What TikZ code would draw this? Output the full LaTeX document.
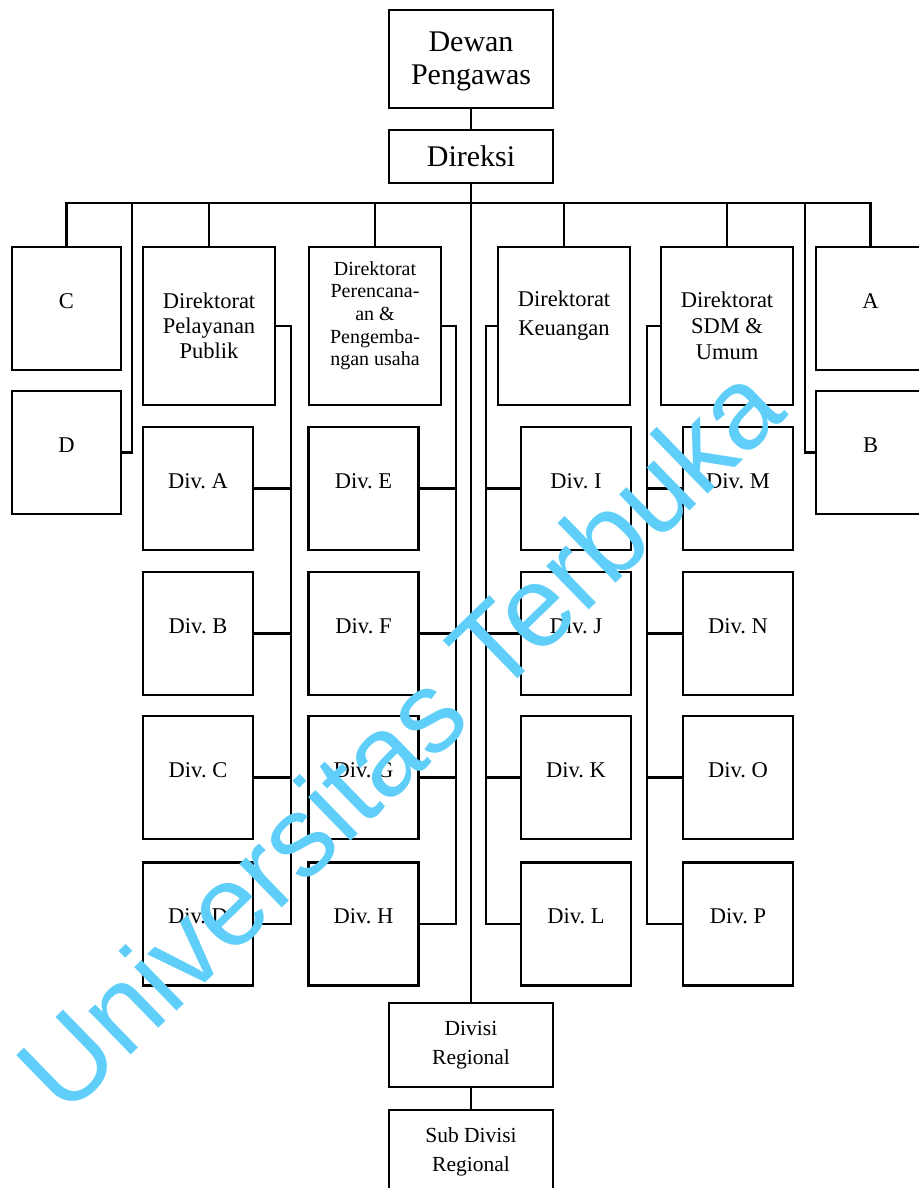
\documentclass[tikz,border=0pt]{standalone}
\usepackage{fontspec}
\setmainfont{Liberation Serif}
\newfontfamily\wmfont{Liberation Sans}
\definecolor{wmblue}{RGB}{95,207,250}
\frenchspacing
\begin{document}
\begin{tikzpicture}[
  x=1pt, y=-1pt,
  box/.style={draw, line width=2.2pt, inner sep=0pt, align=center},
  topbox/.style={box, minimum width=164pt, font=\fontsize{30}{33}\selectfont},
  dirbox/.style={box, minimum width=132pt, minimum height=158pt, font=\fontsize{22.5}{25}\selectfont},
  divbox/.style={box, minimum width=110pt, minimum height=123pt, text height=15pt, text depth=16pt, font=\fontsize{22.5}{25}\selectfont},
  sidebox/.style={divbox, minimum width=109pt},
  regbox/.style={box, minimum width=164pt, minimum height=84pt, font=\fontsize{21.5}{29}\selectfont},
  link/.style={line width=2.2pt}
]
\useasboundingbox (0,0) rectangle (918,1188);

% top of the chart
\node[topbox, minimum height=98pt] (dewan) at (471,59) {\rule{0pt}{6pt}\\[-14pt]Dewan\\Pengawas};
\node[topbox, minimum height=53pt] (direksi) at (471,156.5) {Direksi};

% side units
\node[sidebox] (unitC) at (66.5,308.5) {C};
\node[sidebox] (unitD) at (66.5,452.5) {D};
\node[sidebox] (unitA) at (870.5,308.5) {A};
\node[sidebox] (unitB) at (870.5,452.5) {B};

% directorates
\node[dirbox] (dirPel) at (209,326) {Direktorat\\Pelayanan\\Publik};
\node[dirbox, font=\fontsize{20}{22.7}\selectfont] (dirRen) at (375,326)
  {Direktorat\\Perencana-\\an \&\\Pengemba-\\ngan usaha\\[2pt]\mbox{}};
\node[dirbox, font=\fontsize{22.5}{29}\selectfont] (dirKeu) at (564,326) {Direktorat\\Keuangan\\[-4pt]\mbox{}};
\node[dirbox, font=\fontsize{22.5}{26}\selectfont] (dirSdm) at (727,326) {Direktorat\\SDM \&\\Umum};

% divisions
\foreach \n/\x/\y in {A/198/488.5, B/198/633.5, C/198/777.5, D/198/924,
                      E/363.5/488.5, F/363.5/633.5, G/363.5/777.5, H/363.5/924,
                      I/576/488.5, J/576/633.5, K/576/777.5, L/576/924,
                      M/738/488.5, N/738/633.5, O/738/777.5, P/738/924}
  \node[divbox] (div\n) at (\x,\y) {Div. \n};

% regional
\node[regbox] (divReg) at (471,1045) {Divisi\\Regional};
\node[regbox] (subReg) at (471,1152) {Sub Divisi\\Regional};

% bus and taps
\coordinate (bus) at (0,203);
\coordinate (tapD) at (132,203);
\coordinate (tapB) at (805,203);
\draw[link] (dewan) -- (direksi);
\draw[link] (direksi) -- (divReg);
\draw[link] (divReg) -- (subReg);
\draw[link] (unitC.north) -- (unitC.north |- bus) -- (unitA.north |- bus) -- (unitA.north);
\foreach \d in {dirPel,dirRen,dirKeu,dirSdm}
  \draw[link] (\d.north) -- (\d.north |- bus);
\draw[link] (unitD.east) -| (tapD);
\draw[link] (unitB.west) -| (tapB);

% spines of the directorates
\coordinate (pelSpine) at (291,326);
\coordinate (renSpine) at (456,326);
\coordinate (keuSpine) at (486,326);
\coordinate (sdmSpine) at (647,326);
\draw[link] (dirPel.east) -- (pelSpine) |- (divD.east);
\draw[link] (dirRen.east) -- (renSpine) |- (divH.east);
\draw[link] (dirKeu.west) -- (keuSpine) |- (divL.west);
\draw[link] (dirSdm.west) -- (sdmSpine) |- (divP.west);
\foreach \n in {A,B,C} \draw[link] (div\n.east) -- (div\n.east -| pelSpine);
\foreach \n in {E,F,G} \draw[link] (div\n.east) -- (div\n.east -| renSpine);
\foreach \n in {I,J,K} \draw[link] (div\n.west) -- (div\n.west -| keuSpine);
\foreach \n in {M,N,O} \draw[link] (div\n.west) -- (div\n.west -| sdmSpine);

% watermark
\node[font=\wmfont\fontsize{115}{115}\selectfont, text=wmblue, rotate=44.2, inner sep=0pt] (watermark) at (399,737) {Universitas Terbuka};
\end{tikzpicture}
\end{document}
